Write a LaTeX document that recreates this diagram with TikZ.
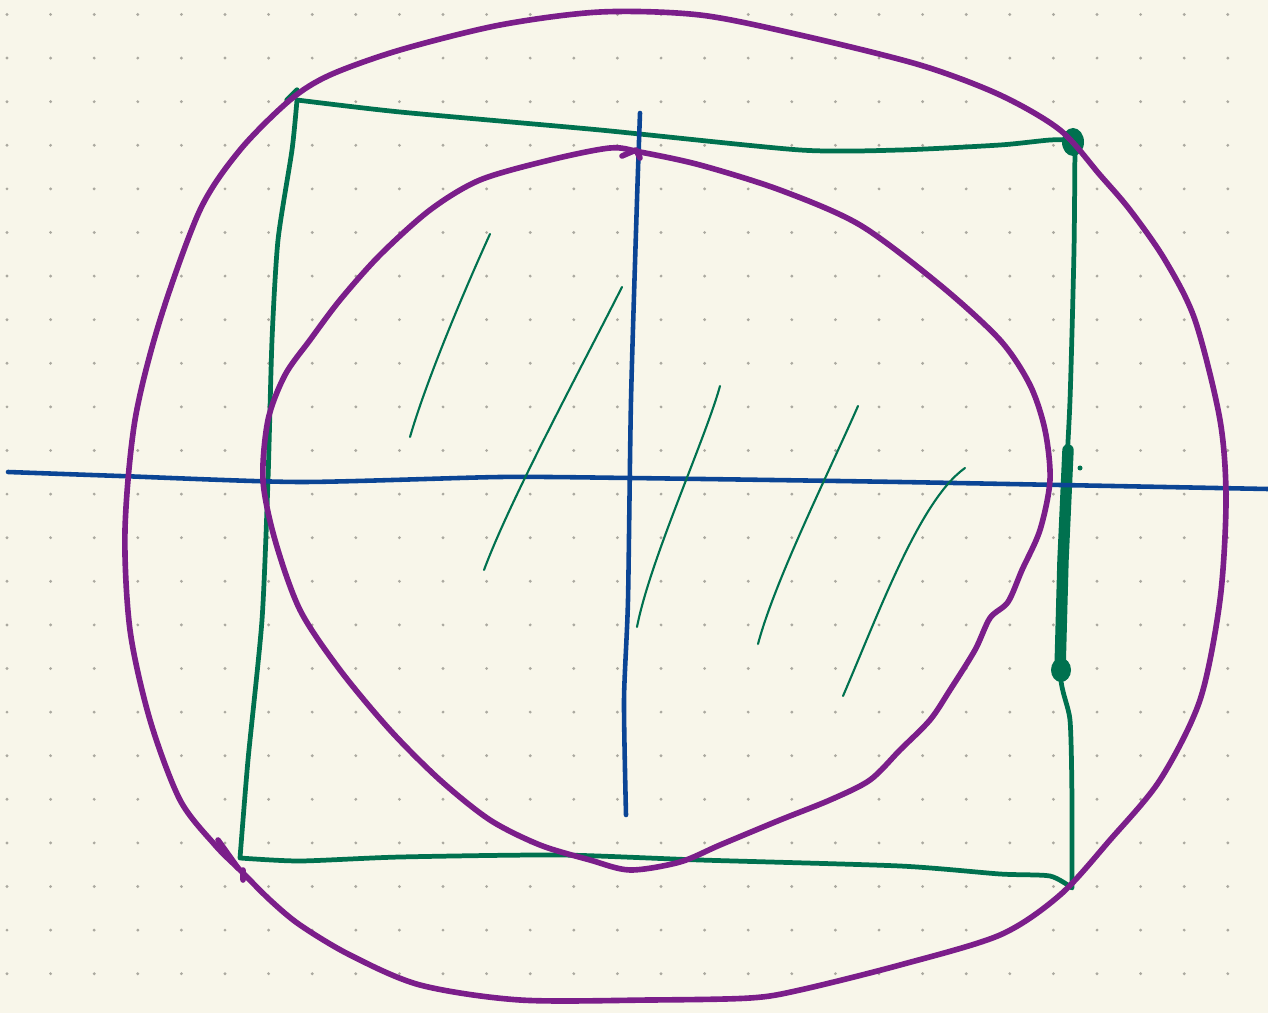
\documentclass[tikz,border=0pt]{standalone}
\usepackage{tikz}
\definecolor{papercol}{HTML}{F8F6EA}
\definecolor{dotcol}{HTML}{ABA9A0}
\definecolor{circcol}{HTML}{7B1E8A}
\definecolor{boxcol}{HTML}{00714F}
\definecolor{axiscol}{HTML}{0B4595}
\tikzset{
  pen/.style={line width=3.2pt, line cap=round, line join=round},
  hatch/.style={line width=1.2pt, boxcol, line cap=round},
}

\begin{document}
\begin{tikzpicture}[x=0.02cm, y=-0.02cm]

  % Paper and dot grid.
  \fill[papercol] (0,0) rectangle (1268,1013);
  \useasboundingbox (0,0) rectangle (1268,1013);
  \foreach \i in {0,...,28} {
    \foreach \j in {0,...,22} {
      \fill[dotcol] ({7+43.6*\i},{14.5+43.6*\j}) circle (1.6);
    }
  }

  % Square.
  \draw[pen, boxcol, line width=2.7pt]
    plot[smooth, tension=0.4] coordinates {
      (297,100) (400,112) (600,130) (800,150) (900,150) (1000,145) (1050,140) (1075,140)}
    -- plot[smooth, tension=0.4] coordinates {
      (1075,140) (1074,250) (1070,400) (1064,520) (1060,670) (1070,720) (1072,800) (1072,888)}
    -- plot[smooth, tension=0.4] coordinates {
      (1072,888) (1050,876) (1000,874) (900,866) (700,860) (560,855) (400,857) (300,861) (240,858)}
    -- plot[smooth, tension=0.4] coordinates {
      (240,858) (248,760) (262,620) (268,480) (272,340) (278,240) (292,150) (297,100)};
  \draw[boxcol, line width=6.5pt, line cap=round] (1068,450) -- (1063,560) -- (1060,670);
  \fill[boxcol] (1073,142) ellipse (11 and 14);
  \fill[boxcol] (1061,670) ellipse (10 and 12);
  \fill[boxcol] (1080,468) circle (2.5);
  \draw[boxcol, line width=3pt, line cap=round] (287,100) -- (297,90);

  % Axes.
  \draw[pen, axiscol, line width=2.6pt] plot[smooth, tension=0.4] coordinates {
    (8,472) (120,476) (300,482) (500,477) (630,478) (900,482) (1268,489)};
  \draw[pen, axiscol, line width=2.6pt] plot[smooth, tension=0.4] coordinates {
    (640,113) (637,200) (631,400) (628,600) (624,700) (626,815)};

  % Hatching.
  \draw[hatch] (490,234) .. controls (460,300) and (425,385) .. (410,437);
  \draw[hatch] (622,287) .. controls (580,370) and (510,500) .. (484,570);
  \draw[hatch] (720,386) .. controls (705,440) and (650,560) .. (637,627);
  \draw[hatch] (858,406) .. controls (830,470) and (775,580) .. (758,644);
  \draw[hatch] (965,468) .. controls (920,500) and (880,610) .. (843,696);

  % Outer circle.
  \draw[pen, circcol] plot[smooth cycle, tension=0.5] coordinates {
    (600,12) (500,25) (400,50) (330,75) (290,100) (240,150) (200,210) (160,320)
    (135,420) (125,530) (130,630) (150,720) (180,800) (215,845) (240,870) (270,900)
    (300,925) (350,955) (420,985) (520,1000) (650,1000) (750,998) (800,990) (900,965)
    (1000,935) (1060,895) (1110,840) (1160,780) (1200,700) (1220,600) (1226,500)
    (1220,420) (1195,320) (1165,260) (1130,210) (1100,175) (1060,130) (1000,95)
    (920,65) (800,35) (700,15)};
  \draw[pen, circcol] (218,840) -- (238,868) (243,870) -- (243,880);

  % Inner circle.
  \draw[pen, circcol] plot[smooth cycle, tension=0.5] coordinates {
    (640,152) (700,165) (780,190) (860,225) (940,285) (1000,340) (1030,385)
    (1045,430) (1050,480) (1040,530) (1022,570) (1008,602) (990,618) (975,650)
    (950,690) (930,720) (900,750) (870,780) (830,800) (780,820) (720,845) (680,862)
    (630,870) (590,860) (540,845) (490,820) (440,780) (390,730) (340,670) (300,610)
    (275,540) (263,480) (268,420) (285,375) (310,340) (340,300) (380,255) (430,210)
    (480,180) (550,160) (610,148)};
  \draw[pen, circcol] (622,156) -- (636,150) -- (640,158);

\end{tikzpicture}
\end{document}
